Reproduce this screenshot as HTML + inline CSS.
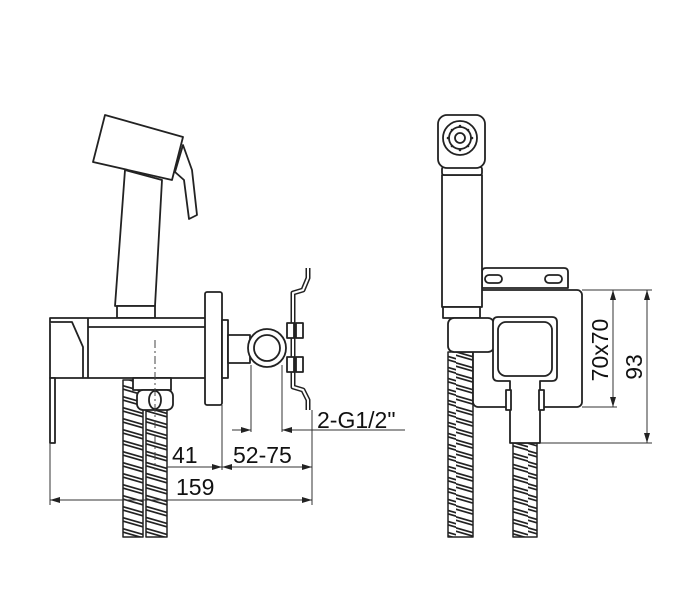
<!DOCTYPE html>
<html><head><meta charset="utf-8"><style>
html,body{margin:0;padding:0;background:#fff;}
svg{display:block;}
text{font-family:"Liberation Sans",sans-serif;fill:#111;}
</style></head><body>
<svg width="688" height="600" viewBox="0 0 688 600" xmlns="http://www.w3.org/2000/svg">
<defs>
<pattern id="hose" width="24" height="11" patternUnits="userSpaceOnUse">
<rect width="24" height="11" fill="#fff"/>
<g stroke="#222" stroke-width="5">
<path d="M-2 1 L26 9"/><path d="M-2 -10 L26 -2"/><path d="M-2 12 L26 20"/>
</g>
<g stroke="#fff" stroke-width="1.6">
<path d="M-2 1 L26 9"/><path d="M-2 -10 L26 -2"/><path d="M-2 12 L26 20"/>
</g>
</pattern>
<marker id="a" viewBox="0 0 10 6" refX="10" refY="3" markerWidth="10" markerHeight="6" orient="auto-start-reverse" markerUnits="userSpaceOnUse"><path d="M0 0 L10 3 L0 6Z" fill="#222"/></marker>
</defs>
<g fill="#fff" stroke="#222" stroke-width="1.8" stroke-linejoin="round">
<rect x="123" y="380" width="20" height="157" fill="url(#hose)" stroke="#222" stroke-width="1.5"/>
<rect x="146" y="390" width="21" height="147" fill="url(#hose)" stroke="#222" stroke-width="1.5"/>
<path d="M125 170 L162 180 L155 306 L115 306 Z"/>
<rect x="117" y="306" width="38" height="12"/>
<path d="M105 115 L183 137 L172 180 L93 162 Z"/>
<path d="M183 145 L192 170 L197 215 L189 219 L184 180 L175 172 Z"/>
<rect x="50" y="318" width="157" height="60"/>
<line x1="88" y1="327" x2="207" y2="327"/>
<line x1="88" y1="318" x2="88" y2="378"/>
<path d="M50 322 L72 322 L83 347 L83 378"/>
<rect x="50" y="378" width="5" height="65"/>
<rect x="205" y="292" width="17" height="113" rx="2"/>
<rect x="222" y="320" width="6" height="58"/>
<rect x="228" y="335" width="22" height="28"/>
<circle cx="267" cy="348" r="19"/>
<circle cx="267" cy="348" r="13"/>
<path d="M308 268 L308 278 L303 290 L293 293 L293 387 L303 390 L308 400 L308 410" fill="none" stroke-width="5"/>
<path d="M308 268 L308 278 L303 290 L293 293 L293 387 L303 390 L308 400 L308 410" fill="none" stroke="#fff" stroke-width="2"/>
<rect x="287" y="323" width="7" height="15"/><rect x="296" y="323" width="7" height="15"/>
<rect x="287" y="357" width="7" height="15"/><rect x="296" y="357" width="7" height="15"/>
<rect x="133" y="378" width="38" height="12"/>
<rect x="137" y="390" width="36" height="20" rx="6"/>
<ellipse cx="155" cy="400" rx="6" ry="9"/>
</g>
<line x1="155" y1="340" x2="155" y2="470" stroke="#444" stroke-width="1" stroke-dasharray="8,3,2,3"/>
<g stroke="#333" stroke-width="1" fill="none">
<line x1="251" y1="365" x2="251" y2="432"/>
<line x1="282" y1="365" x2="282" y2="432"/>
<line x1="232" y1="430" x2="251" y2="430" marker-end="url(#a)"/>
<line x1="282" y1="430" x2="405" y2="430" marker-start="url(#a)"/>
<line x1="222" y1="405" x2="222" y2="470"/>
<line x1="312" y1="410" x2="312" y2="505"/>
<line x1="50" y1="443" x2="50" y2="505"/>
<line x1="167" y1="467" x2="222" y2="467" marker-end="url(#a)"/>
<line x1="222" y1="467" x2="312" y2="467" marker-start="url(#a)" marker-end="url(#a)"/>
<line x1="50" y1="500" x2="312" y2="500" marker-start="url(#a)" marker-end="url(#a)"/>
</g>
<text x="172" y="463" font-size="23">41</text>
<text x="233" y="463" font-size="23">52-75</text>
<text x="176" y="495" font-size="23">159</text>
<text x="317" y="428" font-size="23">2-G1/2"</text>
<g fill="#fff" stroke="#222" stroke-width="1.8" stroke-linejoin="round">
<rect x="448" y="352" width="25" height="185" fill="url(#hose)" stroke="#222" stroke-width="1.5"/>
<rect x="513" y="443" width="24" height="94" fill="url(#hose)" stroke="#222" stroke-width="1.5"/>
<path d="M482 288 L482 272 Q482 268 486 268 L564 268 Q568 268 568 272 L568 288 Z"/>
<rect x="485" y="275" width="17" height="8" rx="4"/>
<rect x="545" y="275" width="17" height="8" rx="4"/>
<rect x="473" y="290" width="109" height="117" rx="5"/>
<rect x="442" y="175" width="40" height="132"/>
<rect x="443" y="307" width="37" height="11"/>
<rect x="442" y="167" width="40" height="8" rx="2"/>
<rect x="438" y="115" width="47" height="53" rx="9"/>
<circle cx="460" cy="138" r="17"/>
<circle cx="460" cy="138" r="11"/>
<circle cx="460" cy="138" r="5"/>
<rect x="448" y="318" width="46" height="34" rx="6"/>
<path d="M498 317 L552 317 Q557 317 557 322 L557 376 Q557 381 552 381 L540 381 L540 443 L510 443 L510 381 L498 381 Q493 381 493 376 L493 322 Q493 317 498 317 Z"/>
<rect x="498" y="322" width="54" height="54" rx="8"/>
<rect x="506" y="390" width="5" height="20"/><rect x="539" y="390" width="5" height="20"/>
</g>
<g fill="#222">
<circle cx="460" cy="126" r="1.3"/><circle cx="460" cy="150" r="1.3"/><circle cx="448" cy="138" r="1.3"/><circle cx="472" cy="138" r="1.3"/>
<circle cx="452" cy="130" r="1.3"/><circle cx="468" cy="130" r="1.3"/><circle cx="452" cy="146" r="1.3"/><circle cx="468" cy="146" r="1.3"/>
</g>
<g stroke="#333" stroke-width="1" fill="none">
<line x1="582" y1="290" x2="652" y2="290"/>
<line x1="582" y1="407" x2="617" y2="407"/>
<line x1="540" y1="443" x2="652" y2="443"/>
<line x1="613" y1="290" x2="613" y2="407" marker-start="url(#a)" marker-end="url(#a)"/>
<line x1="647" y1="290" x2="647" y2="443" marker-start="url(#a)" marker-end="url(#a)"/>
</g>
<text transform="translate(608,350) rotate(-90)" font-size="23" text-anchor="middle">70x70</text>
<text transform="translate(642,367) rotate(-90)" font-size="23" text-anchor="middle">93</text>
</svg>
</body></html>
